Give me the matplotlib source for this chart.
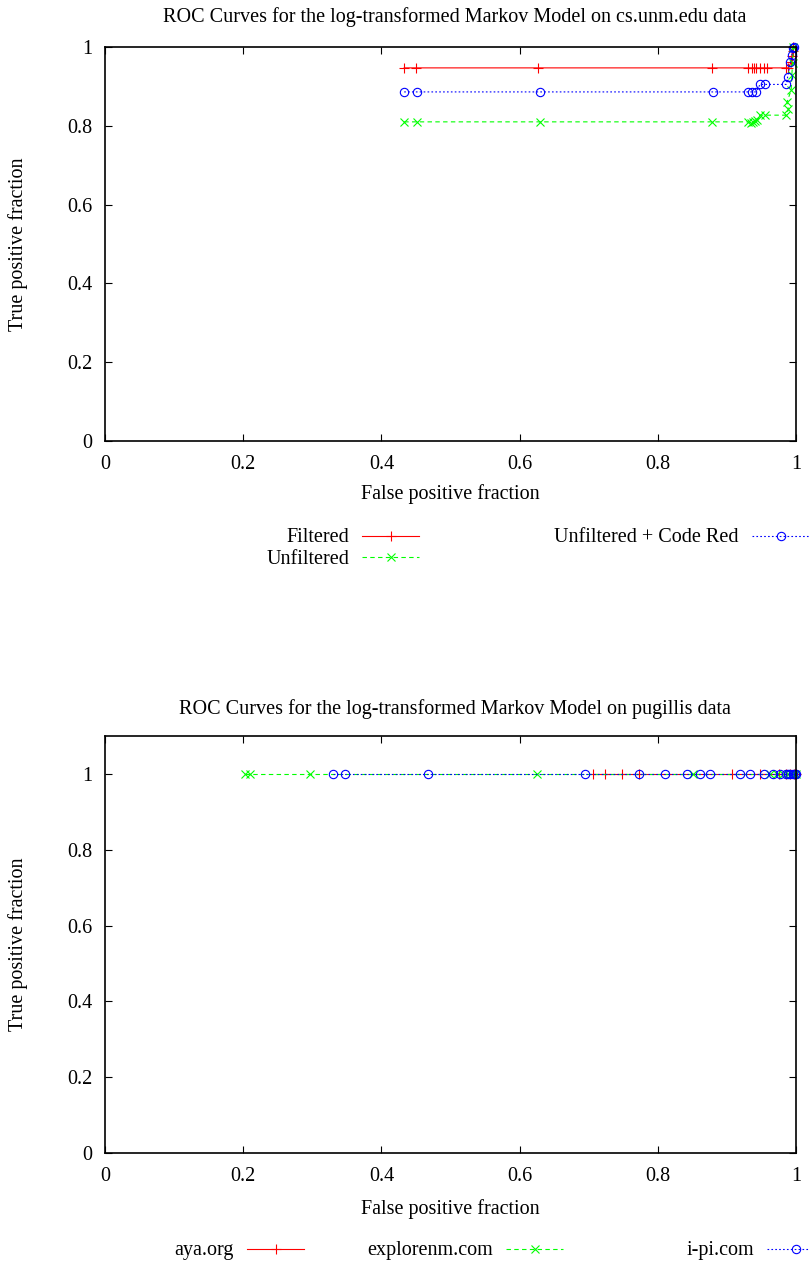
import numpy as np
import matplotlib.pyplot as plt
from matplotlib.lines import Line2D
from matplotlib.ticker import FuncFormatter

plt.rcParams['font.family'] = ['Liberation Serif', 'DejaVu Serif']
plt.rcParams['font.size'] = 14.5


# TOP PLOT DATA - cs.unm.edu
filt_fp = [0.433, 0.450, 0.627, 0.878, 0.931, 0.936, 0.939, 0.942, 0.948, 0.954, 0.958,
           0.986, 0.989, 0.993, 0.994, 0.995, 0.996]
filt_tp = [0.947, 0.947, 0.947, 0.947, 0.947, 0.947, 0.947, 0.947, 0.947, 0.947, 0.947,
           0.947, 0.947, 0.962, 0.978, 0.990, 1.0]

unf_fp = [0.433, 0.451, 0.629, 0.879, 0.931, 0.935, 0.938, 0.940, 0.943,
          0.948, 0.955, 0.986, 0.989, 0.987, 0.993, 0.994, 0.995, 0.996]
unf_tp = [0.810, 0.810, 0.810, 0.810, 0.810, 0.808, 0.810, 0.812, 0.815,
          0.827, 0.827, 0.827, 0.842, 0.860, 0.891, 0.929, 0.959, 1.0]

cr_fp = [0.433, 0.452, 0.630, 0.880, 0.931, 0.937, 0.942, 0.948, 0.955,
         0.986, 0.988, 0.992, 0.994, 0.996, 0.997]
cr_tp = [0.886, 0.886, 0.886, 0.886, 0.886, 0.886, 0.886, 0.905, 0.905,
         0.905, 0.925, 0.962, 0.980, 0.997, 1.0]

# BOTTOM PLOT DATA - pugillis
aya_fp = [0.706, 0.724, 0.748, 0.773, 0.907, 0.948, 0.975, 0.985, 0.992, 0.997, 1.0]
aya_tp = [1.0] * len(aya_fp)

exp_fp = [0.203, 0.210, 0.297, 0.625, 0.851, 0.962, 0.972, 0.981, 0.988, 0.993, 0.997, 1.0]
exp_tp = [1.0] * len(exp_fp)

ipi_fp = [0.330, 0.347, 0.468, 0.695, 0.773, 0.810, 0.842, 0.861, 0.875, 0.919, 0.934,
          0.954, 0.967, 0.977, 0.985, 0.989, 0.992, 0.995, 0.998, 1.0]
ipi_tp = [1.0] * len(ipi_fp)

ticks = [0, 0.2, 0.4, 0.6, 0.8, 1.0]

RED, GREEN, BLUE = '#ff0000', '#00ff00', '#0000ff'
styles = {
    'red': dict(color=RED, linestyle='-', marker='+', markersize=6.5, markeredgewidth=0.8),
    'green': dict(color=GREEN, linestyle=(0, (4, 3)), marker='x', markersize=5.5, markeredgewidth=0.8),
    'blue': dict(color=BLUE, linestyle=(0, (1.5, 2)), marker='o', markersize=6,
                 markerfacecolor='none', markeredgewidth=0.8),
}

W, H = 810, 1261
fig = plt.figure(figsize=(W / 100, H / 100), dpi=100)


def px(x, y):
    # pixel position -> figure fraction
    return x / W, 1 - y / H


def setup_axes(rect, ymax):
    ax = fig.add_axes(rect)
    ax.set_xlim(0, 1)
    ax.set_ylim(0, ymax)
    ax.set_xticks(ticks)
    ax.set_yticks(ticks)
    fmt = FuncFormatter(lambda v, p: '%g' % v)
    ax.xaxis.set_major_formatter(fmt)
    ax.yaxis.set_major_formatter(fmt)
    ax.tick_params(direction='in', length=5, width=0.8, top=True, right=True, labelsize=14.5)
    ax.tick_params(axis='x', pad=10)
    ax.tick_params(axis='y', pad=9)
    for s in ax.spines.values():
        s.set_linewidth(1.2)
    return ax


def key(xr, y, label, st):
    # gnuplot-like key entry: right-aligned label then a sample line
    fx, fy = px(xr, y)
    fig.text(fx, px(0, y + 2)[1], label, ha='right', va='center')
    x0, _ = px(xr + 13, y)
    x1, _ = px(xr + 70, y)
    fig.add_artist(Line2D([x0, (x0 + x1) / 2, x1], [fy, fy, fy], transform=fig.transFigure,
                          linewidth=0.8, markevery=[1], **st))


# TOP PLOT
ax1 = setup_axes([105 / W, (H - 441) / H, 691 / W, 394 / H], 1.0)
ax1.plot(filt_fp, filt_tp, linewidth=0.8, clip_on=False, **styles['red'])
ax1.plot(unf_fp, unf_tp, linewidth=0.8, clip_on=False, **styles['green'])
ax1.plot(cr_fp, cr_tp, linewidth=0.8, clip_on=False, **styles['blue'])

fig.text(*px(455, 17), 'ROC Curves for the log-transformed Markov Model on cs.unm.edu data',
         ha='center', va='center')
fig.text(*px(450, 494), 'False positive fraction', ha='center', va='center')
fig.text(*px(18, 244), 'True positive fraction', ha='center', va='center', rotation=90)

key(349, 536, 'Filtered', styles['red'])
key(349, 557, 'Unfiltered', styles['green'])
key(739, 536, 'Unfiltered + Code Red', styles['blue'])

# BOTTOM PLOT
ax2 = setup_axes([105 / W, (H - 1153) / H, 691 / W, 417 / H], 1.1)
ax2.plot(aya_fp, aya_tp, linewidth=0.8, clip_on=False, **styles['red'])
ax2.plot(exp_fp, exp_tp, linewidth=0.8, clip_on=False, **styles['green'])
ax2.plot(ipi_fp, ipi_tp, linewidth=0.8, clip_on=False, **styles['blue'])

fig.text(*px(455, 709), 'ROC Curves for the log-transformed Markov Model on pugillis data',
         ha='center', va='center')
fig.text(*px(450, 1209), 'False positive fraction', ha='center', va='center')
fig.text(*px(18, 944), 'True positive fraction', ha='center', va='center', rotation=90)

key(234, 1249, 'aya.org', styles['red'])
key(493, 1249, 'explorenm.com', styles['green'])
key(754, 1249, 'i-pi.com', styles['blue'])

fig.savefig('out.png', dpi=100)
